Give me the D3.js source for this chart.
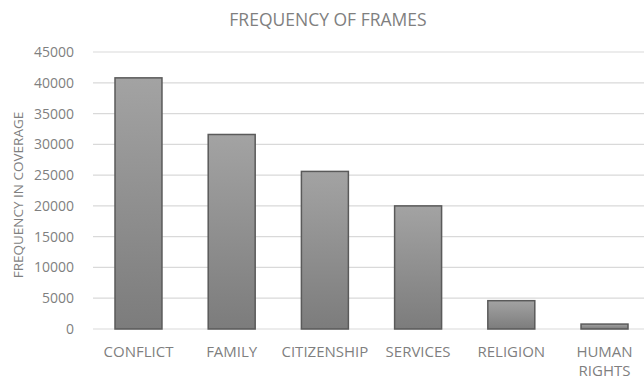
<!DOCTYPE html>
<html>
<head>
<meta charset="utf-8">
<script src="https://cdn.jsdelivr.net/npm/d3@7"></script>
<style>
  html, body { margin: 0; padding: 0; background: #fff; overflow: hidden; }
  svg { display: block; }
  text { font-family: "Open Sans", sans-serif; fill: #7f7f7f; }
</style>
</head>
<body>
<svg id="chart" width="644" height="379"></svg>
<script>
// Frame categories and how often each appears in coverage
const categories = ["CONFLICT", "FAMILY", "CITIZENSHIP", "SERVICES", "RELIGION", "HUMAN RIGHTS"];
const frequencies = [40800, 31600, 25600, 20000, 4600, 800];
const yTicks = [0, 5000, 10000, 15000, 20000, 25000, 30000, 35000, 40000, 45000];

const W = 644, H = 379;
// plot area runs slightly past the right edge, so gridlines bleed off
const margin = { top: 52, right: -6, bottom: 50, left: 93 };
const innerW = W - margin.left - margin.right;
const innerH = H - margin.top - margin.bottom;

const svg = d3.select("#chart");

const defs = svg.append("defs");
const grad = defs.append("linearGradient")
  .attr("id", "barFill").attr("x1", 0).attr("y1", 0).attr("x2", 0).attr("y2", 1);
grad.append("stop").attr("offset", "0%").attr("stop-color", "#a3a3a3");
grad.append("stop").attr("offset", "100%").attr("stop-color", "#7c7c7c");

const x = d3.scaleBand().domain(categories).range([0, innerW]).paddingInner(0.496).paddingOuter(0.236);
const y = d3.scaleLinear().domain([0, 45000]).range([innerH, 0]);

const g = svg.append("g").attr("transform", `translate(${margin.left},${margin.top})`);

// horizontal gridlines
g.append("g")
  .selectAll("line")
  .data(yTicks)
  .join("line")
  .attr("x1", 0).attr("x2", innerW)
  .attr("y1", d => y(d)).attr("y2", d => y(d))
  .attr("stroke", "#d9d9d9").attr("stroke-width", 1.2);

// y axis labels
const yAxis = d3.axisLeft(y).tickValues(yTicks).tickSize(0).tickPadding(19).tickFormat(d3.format("d"));
const yg = g.append("g").call(yAxis);
yg.select(".domain").remove();
yg.selectAll("text").style("font-size", "14px").style("fill", "#7f7f7f").style("font-family", "\"Open Sans\", sans-serif");

// bars
g.append("g")
  .selectAll("rect")
  .data(categories.map((c, i) => ({ c, v: frequencies[i] })))
  .join("rect")
  .attr("x", d => x(d.c))
  .attr("y", d => y(d.v))
  .attr("width", x.bandwidth())
  .attr("height", d => innerH - y(d.v))
  .attr("fill", "url(#barFill)")
  .attr("stroke", "#5a5a5a")
  .attr("stroke-width", 1.5);

// category labels (wrapped on spaces)
const xg = g.append("g").attr("transform", `translate(0,${innerH})`);
categories.forEach(c => {
  const cx = x(c) + x.bandwidth() / 2;
  const t = xg.append("text")
    .attr("x", cx)
    .attr("y", 28)
    .attr("text-anchor", "middle")
    .style("font-size", "15px");
  c.split(" ").forEach((w, i) => {
    t.append("tspan").attr("x", cx).attr("dy", i === 0 ? 0 : 19).text(w);
  });
});

// chart title
svg.append("text")
  .attr("x", 328)
  .attr("y", 26)
  .attr("text-anchor", "middle")
  .style("font-size", "17.5px")
  .text("FREQUENCY OF FRAMES");

// y axis title
svg.append("text")
  .attr("transform", "translate(23,195) rotate(-90)")
  .attr("text-anchor", "middle")
  .style("font-size", "13.5px")
  .text("FREQUENCY IN COVERAGE");
</script>
</body>
</html>
